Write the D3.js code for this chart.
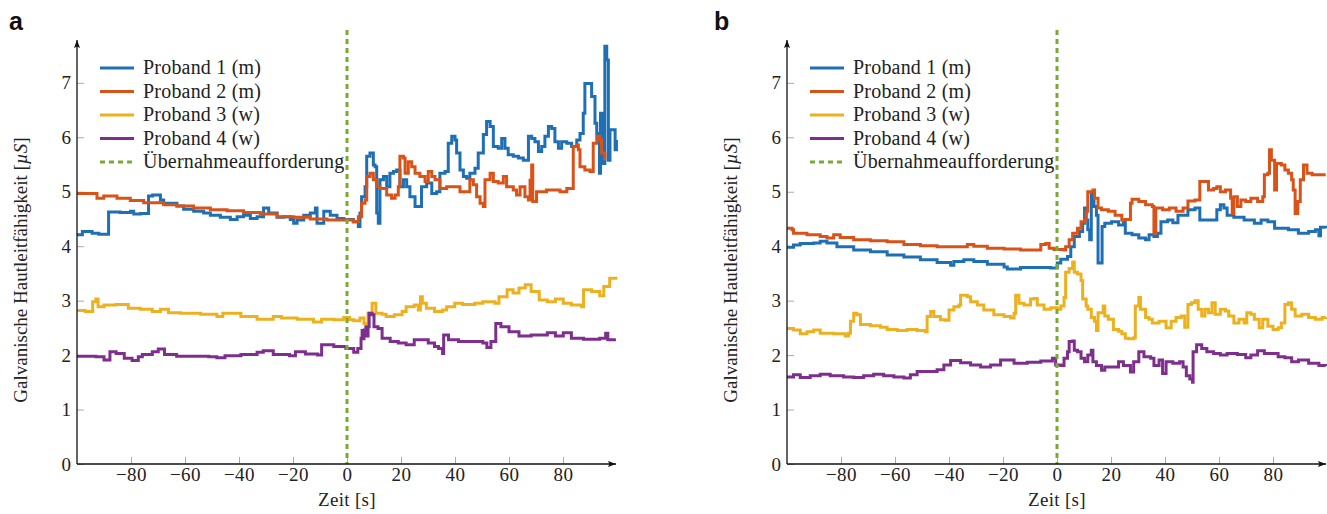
<!DOCTYPE html>
<html>
<head>
<meta charset="utf-8">
<script src="https://cdn.jsdelivr.net/npm/d3@7"></script>
<style>
  body { margin: 0; background: #fff; }
  text { font-family: "Liberation Serif", "Times New Roman", serif; fill: #222; }
  text.panel-label { font-family: "Liberation Sans", Arial, sans-serif; font-weight: bold; fill: #111; }
</style>
</head>
<body>
<div id="chart"></div>
<script>
// legend / axis texts
const probanden = ["Proband 1 (m)", "Proband 2 (m)", "Proband 3 (w)", "Proband 4 (w)"];
const takeoverLabel = "Übernahmeaufforderung";
const xTicks = [-80, -60, -40, -20, 0, 20, 40, 60, 80];
const yTicks = [0, 1, 2, 3, 4, 5, 6, 7];
const takeoverTime = 0;

// panel a, [Zeit s, Leitfähigkeit µS]
const a_p1 = [[-100,4.21],[-98,4.27],[-94.4,4.24],[-91.9,4.22],[-88.3,4.63],[-84,4.62],[-80.2,4.64],[-79,4.59],[-76.5,4.60],
  [-73.5,4.92],[-72,4.94],[-69.1,4.85],[-67.9,4.79],[-63,4.74],[-60.5,4.68],[-56.8,4.64],[-53.1,4.61],[-50.6,4.57],[-46.9,4.53],
  [-43.2,4.49],[-40.7,4.54],[-38.3,4.57],[-35.8,4.51],[-33.3,4.54],[-30.9,4.70],[-29,4.61],[-25.9,4.53],[-23.5,4.54],[-21,4.49],
  [-19.75,4.42],[-18.5,4.48],[-16,4.57],[-13.6,4.61],[-11.7,4.70],[-11.1,4.42],[-8.6,4.64],[-6.2,4.57],[-3.7,4.51],[-1.2,4.49],
  [2.35,4.45],[4.2,4.36],[4.8,4.61],[5.4,4.91],[6.7,5.09],[7.3,5.65],[8.5,5.71],[9.75,5.49],[10.4,5.46],[11.0,4.61],[11.6,4.42],
  [12.2,5.22],[13.5,5.28],[14.7,5.09],[15.9,5.34],[17.2,5.37],[18.4,5.40],[19.6,5.09],[20.9,5.22],[22.1,5.09],[23.3,4.91],
  [25.2,4.73],[26.4,4.73],[27.6,5.09],[29.5,5.16],[31.4,4.97],[33.2,5.0],[34.4,5.34],[36.3,5.37],[37.5,5.89],[38.8,6.02],
  [40.0,5.95],[40.6,5.71],[41.85,5.40],[43.1,5.28],[44.3,5.25],[45.5,5.34],[47.4,5.43],[48.6,5.71],[50.5,6.05],[51.7,6.29],
  [53.0,6.20],[54.2,5.83],[56.0,5.80],[57.3,5.98],[58.5,5.80],[59.7,5.68],[61.6,5.65],[63.5,5.62],[65.3,5.58],[67.2,6.02],
  [68.4,5.98],[69.6,5.92],[70.9,5.74],[72.1,5.83],[73.3,6.02],[74.6,6.20],[75.8,6.16],[77.0,5.92],[78.3,5.80],[79.5,5.92],
  [81.4,5.89],[83.2,5.83],[85.1,5.95],[86.3,6.07],[87.5,6.44],[88.1,6.99],[89.4,6.99],[90.6,6.75],[91.85,6.26],[92.5,6.07],
  [93.5,5.34],[93.9,6.44],[94.9,5.52],[95.5,7.67],[96.2,7.42],[96.8,5.58],[97.4,6.14],[98.6,6.14],[99.3,5.77],[99.8,5.95]];
const a_p2 = [[-100,4.97],[-92.6,4.88],[-90.1,4.92],[-85.2,4.88],[-80.25,4.84],[-75.3,4.80],[-67.9,4.76],[-63,4.74],[-56.8,4.70],
  [-50.6,4.67],[-44.4,4.65],[-38.3,4.62],[-32.1,4.59],[-25.9,4.54],[-19.75,4.53],[-13.6,4.50],[-7.4,4.48],[-1.2,4.48],
  [2.35,4.45],[4.2,4.54],[5.4,4.79],[6.7,4.85],[7.3,5.28],[8.5,5.34],[9.75,5.22],[11.0,5.09],[12.2,5.06],[14.7,4.94],[16.5,4.88],
  [17.8,4.94],[19.0,5.09],[19.6,5.65],[20.9,5.62],[21.5,5.34],[22.7,5.55],[23.95,5.46],[25.2,5.34],[27.0,5.28],[28.9,5.19],
  [30.1,5.37],[31.4,5.28],[32.6,5.22],[34.4,5.06],[36.9,5.09],[39.4,5.09],[41.85,5.0],[44.3,5.0],[45.5,5.22],[46.8,5.13],
  [48.0,4.91],[49.3,4.79],[50.5,4.73],[51.1,5.22],[53.0,5.34],[54.2,5.19],[56.0,5.16],[57.9,5.28],[59.1,5.09],[61.6,5.03],
  [62.8,4.94],[64.1,5.09],[65.9,4.91],[67.2,4.85],[67.8,5.21],[68.4,5.49],[68.8,4.82],[70.2,5.0],[73.9,5.03],[78.9,5.0],
  [81.4,5.06],[83.2,5.06],[83.8,5.83],[85.1,5.86],[85.7,5.77],[86.3,5.46],[88.1,5.40],[90.0,5.37],[91.2,5.89],[92.5,6.02],
  [93.7,5.95],[94.3,5.71],[95.5,5.58]];
const a_p3 = [[-100,2.82],[-97,2.80],[-94.2,2.98],[-93,3.03],[-92.2,2.89],[-90,2.92],[-85.5,2.93],[-81,2.86],[-76.6,2.84],
  [-72.1,2.80],[-69.1,2.84],[-66.1,2.78],[-61.6,2.77],[-54.2,2.75],[-48.2,2.71],[-46,2.77],[-42.2,2.77],[-39.3,2.71],[-33.3,2.66],
  [-27.3,2.71],[-24.3,2.68],[-18.4,2.66],[-12.4,2.61],[-9.4,2.66],[-4.9,2.65],[-1.2,2.69],[1.0,2.65],[2.5,2.63],[4.8,2.68],
  [6.3,2.58],[7.8,2.77],[9.3,2.95],[10.7,2.77],[13.0,2.75],[14.5,2.71],[17.5,2.74],[20.4,2.80],[21.9,2.89],[24.9,2.92],
  [26.4,2.83],[27.2,3.07],[27.9,2.95],[29.4,2.86],[32.4,2.80],[35.4,2.83],[36.9,2.89],[39.9,2.95],[42.8,2.93],[47.3,2.95],
  [50.3,2.98],[54.8,2.95],[56.3,3.07],[59.3,3.20],[61.5,3.14],[63.7,3.23],[66.0,3.29],[68.2,3.17],[71.2,3.01],[74.2,2.98],
  [77.2,3.03],[80.1,2.95],[83.1,2.92],[86.9,2.89],[87.6,3.20],[90.6,3.17],[93.6,3.09],[95.1,3.26],[97.3,3.41],[99.6,3.44]];
const a_p4 = [[-100,1.98],[-93,1.97],[-90,1.91],[-87.8,2.06],[-85.5,2.03],[-82.5,1.94],[-79.6,1.90],[-77.3,1.97],[-75.8,2.01],
  [-72.1,2.06],[-69.9,2.11],[-67.6,2.01],[-63.1,1.98],[-57.2,1.98],[-51.2,1.97],[-48.2,1.95],[-45.2,1.99],[-39.3,2.01],
  [-33.3,2.05],[-31.0,2.08],[-27.3,2.01],[-21.3,1.99],[-19.1,2.06],[-15.4,2.02],[-10.9,2.0],[-9.4,2.19],[-4.9,2.16],[-0.4,2.12],
  [2.5,2.05],[4.0,2.12],[5.2,2.31],[5.6,2.45],[6.0,2.30],[6.3,2.46],[7.0,2.52],[7.4,2.35],[7.8,2.52],[8.2,2.77],[9.3,2.74],
  [10.0,2.52],[11.5,2.49],[13.0,2.31],[16.0,2.25],[19.0,2.22],[21.9,2.19],[24.9,2.28],[28.7,2.28],[30.1,2.22],[32.4,2.16],
  [33.9,2.12],[35.4,2.03],[35.8,2.37],[37.6,2.28],[41.3,2.25],[47.3,2.25],[50.3,2.22],[51.8,2.14],[53.3,2.25],[55.1,2.58],
  [57.0,2.52],[60.0,2.43],[63.7,2.35],[68.2,2.37],[74.2,2.41],[77.2,2.35],[80.1,2.41],[83.1,2.31],[87.6,2.29],[93.6,2.31],
  [95.8,2.40],[96.6,2.28],[99.6,2.28]];

// panel b
const b_p1 = [[-100,3.98],[-97.6,4.02],[-95.1,4.05],[-90.1,4.06],[-87.7,4.09],[-85.2,4.06],[-81.5,3.99],[-75.3,3.93],[-69.1,3.90],
  [-62.9,3.84],[-56.7,3.80],[-50.6,3.75],[-44.4,3.70],[-39.4,3.65],[-38.2,3.72],[-34.5,3.75],[-30.8,3.72],[-25.8,3.67],
  [-19.6,3.62],[-18.4,3.58],[-13.5,3.61],[-7.3,3.61],[-2.4,3.60],[0.1,3.69],[1.4,3.76],[3.9,3.81],[5.1,3.99],[6.4,4.18],
  [8.3,4.27],[9.5,4.42],[10.2,4.70],[10.8,4.48],[11.4,4.30],[12.1,4.12],[12.7,4.97],[13.7,4.73],[14.6,4.57],[15.2,3.69],
  [16.2,3.69],[16.7,4.36],[17.7,4.42],[20.2,4.45],[22.8,4.39],[24.6,4.45],[25.3,4.24],[27.8,4.21],[30.3,4.15],[32.8,4.12],
  [34.1,4.21],[35.9,4.18],[37.2,4.24],[38.5,4.45],[41.0,4.48],[42.9,4.43],[44.8,4.57],[46.7,4.57],[48.5,4.67],[51.1,4.70],
  [52.9,4.48],[58.0,4.48],[59.2,4.67],[60.5,4.76],[61.8,4.70],[63.0,4.57],[65.5,4.53],[69.3,4.48],[73.1,4.42],[75.6,4.48],
  [78.1,4.45],[80.6,4.33],[85.7,4.30],[89.4,4.24],[93.2,4.27],[95.7,4.30],[97.0,4.19],[97.6,4.35],[99.5,4.33]];
const b_p2 = [[-100,4.33],[-98.1,4.30],[-97.6,4.24],[-92.6,4.21],[-87.7,4.18],[-85.2,4.15],[-82.7,4.21],[-80.3,4.16],[-75.3,4.12],
  [-69.1,4.10],[-62.9,4.08],[-56.7,4.03],[-50.6,4.01],[-44.4,3.99],[-38.2,3.99],[-33.2,4.03],[-30.8,4.0],[-25.8,3.96],
  [-19.6,3.95],[-13.5,3.93],[-6.7,3.93],[-6.0,4.03],[-4.2,4.05],[-2.9,3.96],[-1.1,3.94],[2.6,3.93],[3.2,3.99],[4.5,4.12],
  [5.8,4.24],[7.6,4.33],[8.9,4.45],[10.2,4.48],[10.8,4.64],[11.4,5.0],[13.3,5.03],[13.9,4.88],[15.2,4.70],[16.5,4.67],
  [19.0,4.64],[21.5,4.57],[24.0,4.48],[25.3,4.49],[27.2,4.79],[27.8,4.86],[30.3,4.82],[32.8,4.76],[35.3,4.73],[35.9,4.24],
  [36.6,4.70],[39.1,4.67],[41.6,4.70],[44.1,4.64],[46.7,4.70],[48.5,4.83],[51.1,4.85],[52.9,5.19],[54.8,5.19],[56.1,5.03],
  [58.0,5.06],[59.2,5.09],[60.5,5.0],[62.4,5.03],[64.3,4.88],[64.9,4.60],[65.5,4.91],[66.8,4.73],[68.1,4.85],[69.9,4.82],
  [71.8,4.88],[74.3,4.82],[76.2,4.91],[76.8,5.31],[78.1,5.34],[78.7,5.77],[79.4,5.58],[80.6,5.03],[81.3,5.52],[83.1,5.49],
  [84.4,5.40],[85.7,5.34],[86.9,5.22],[87.5,5.03],[88.2,4.60],[89.2,4.82],[90.1,5.22],[91.3,5.49],[92.6,5.34],[94.5,5.31],
  [97.0,5.31],[99.5,5.31]];
const b_p3 = [[-100,2.49],[-97.6,2.46],[-95.1,2.39],[-92.6,2.43],[-90.1,2.46],[-87.7,2.40],[-82.7,2.39],[-78.4,2.35],[-77.2,2.40],
  [-76.5,2.62],[-75.3,2.77],[-74.1,2.74],[-72.8,2.56],[-69.1,2.54],[-65.4,2.51],[-62.9,2.47],[-59.2,2.45],[-55.5,2.47],
  [-51.8,2.45],[-48.7,2.43],[-48.1,2.71],[-46.8,2.80],[-45.6,2.71],[-43.2,2.65],[-41.3,2.64],[-40.0,2.83],[-38.2,2.89],
  [-36.3,2.92],[-35.7,3.10],[-33.2,3.07],[-32.0,2.98],[-29.5,2.92],[-27.1,2.83],[-23.4,2.74],[-19.6,2.71],[-17.2,2.68],
  [-15.9,2.77],[-15.3,3.10],[-14.1,2.95],[-12.2,2.92],[-9.8,3.03],[-8.5,3.04],[-7.3,2.92],[-4.8,2.84],[-2.3,2.87],[0.1,2.84],
  [1.4,2.90],[2.6,3.06],[3.2,3.52],[4.5,3.59],[5.8,3.71],[6.4,3.52],[7.6,3.49],[8.9,3.37],[9.5,3.03],[10.8,2.90],[11.4,2.84],
  [12.7,2.69],[13.9,2.62],[14.6,2.45],[15.2,2.78],[17.1,2.90],[17.7,2.72],[19.0,2.66],[20.2,2.66],[20.9,2.47],[22.8,2.44],
  [24.0,2.39],[25.3,2.31],[26.5,2.30],[28.4,2.32],[29.0,2.90],[30.3,3.06],[30.9,2.84],[32.8,2.69],[34.1,2.66],[35.3,2.59],
  [37.8,2.62],[40.4,2.50],[42.3,2.62],[44.1,2.69],[46.0,2.72],[47.3,2.51],[48.5,2.93],[49.8,2.96],[51.1,3.0],[52.3,2.84],
  [53.6,2.72],[54.8,2.84],[56.1,2.78],[57.4,2.96],[58.6,2.75],[60.5,2.84],[62.4,2.81],[63.6,2.72],[65.5,2.59],[67.4,2.66],
  [69.3,2.59],[70.3,2.78],[71.8,2.75],[73.1,2.66],[74.9,2.50],[76.2,2.66],[78.1,2.53],[80.0,2.47],[81.9,2.50],[83.1,2.59],
  [84.4,2.93],[85.7,2.96],[86.9,2.84],[88.2,2.72],[90.7,2.75],[93.2,2.69],[95.7,2.66],[98.2,2.69],[99.5,2.70]];
const b_p4 = [[-100,1.60],[-97.6,1.64],[-95.1,1.59],[-91.4,1.62],[-87.7,1.65],[-84.0,1.62],[-79.0,1.60],[-75.3,1.59],[-71.6,1.62],
  [-67.9,1.65],[-64.2,1.62],[-60.4,1.60],[-56.7,1.58],[-54.3,1.64],[-51.8,1.70],[-48.1,1.70],[-44.4,1.73],[-41.9,1.82],
  [-39.4,1.90],[-35.7,1.86],[-32.0,1.82],[-28.3,1.78],[-24.6,1.82],[-20.9,1.91],[-15.9,1.85],[-11.0,1.87],[-6.0,1.89],
  [-1.7,1.94],[-0.5,1.82],[1.4,1.81],[2.6,1.94],[3.9,2.06],[4.5,2.25],[5.8,2.26],[6.4,2.09],[7.6,2.06],[8.9,1.94],[10.2,1.88],
  [11.4,2.0],[12.7,2.09],[13.3,1.88],[14.6,1.81],[16.5,1.72],[17.7,1.78],[20.2,1.78],[22.8,1.88],[24.6,1.81],[27.2,1.69],
  [28.4,1.88],[30.3,2.06],[32.2,1.97],[34.7,1.94],[35.9,1.81],[37.8,1.91],[39.1,1.66],[40.4,1.88],[42.9,1.85],[45.4,1.88],
  [46.7,1.78],[47.9,1.62],[49.2,1.56],[50.2,1.50],[50.4,2.06],[51.7,2.19],[53.6,2.12],[55.5,2.06],[58.0,2.03],[60.5,2.0],
  [63.0,2.03],[66.8,2.01],[69.9,1.95],[71.8,2.0],[74.3,2.08],[76.8,2.03],[79.4,2.03],[81.9,1.97],[84.4,1.95],[86.9,1.88],
  [89.4,1.91],[93.2,1.85],[97.0,1.81],[99.5,1.80]];

const colors = ["#1f6fb4", "#d95319", "#edb120", "#7e2f8e"];
const green = "#77ac30";

const width = 1327, height = 514;
const svg = d3.select("#chart").append("svg")
    .attr("width", width)
    .attr("height", height);

svg.append("defs").append("marker")
    .attr("id", "arrow")
    .attr("markerUnits", "userSpaceOnUse")
    .attr("viewBox", "0 0 8 6")
    .attr("refX", 8).attr("refY", 3)
    .attr("markerWidth", 8).attr("markerHeight", 6)
    .attr("orient", "auto")
    .append("path")
    .attr("d", "M0,0 L8,3 L0,6 L1.5,3 Z")
    .attr("fill", "#111");

function panel(name, series, left, right, labelX, ylabelX) {
    const g = svg.append("g");
    const x = d3.scaleLinear().domain([-100, 100]).range([left, right]);
    const y = d3.scaleLinear().domain([0, 7.75]).range([464, 42]);

    // ticks, inward, grey
    g.append("g")
        .attr("transform", "translate(0," + y(0) + ")")
        .call(d3.axisBottom(x).tickValues(xTicks).tickSize(-7).tickPadding(4).tickFormat(d3.format("d")))
        .call(s => s.select(".domain").remove())
        .call(s => s.selectAll(".tick line").attr("stroke", "#aaa"))
        .call(s => s.selectAll(".tick text").attr("font-size", 19).attr("letter-spacing", 0.5));
    g.append("g")
        .attr("transform", "translate(" + left + ",0)")
        .call(d3.axisLeft(y).tickValues(yTicks).tickSize(-7).tickPadding(6).tickFormat(d3.format("d")))
        .call(s => s.select(".domain").remove())
        .call(s => s.selectAll(".tick line").attr("stroke", "#aaa"))
        .call(s => s.selectAll(".tick text").attr("font-size", 19));

    const line = d3.line()
        .x(d => x(d[0]))
        .y(d => y(d[1]))
        .curve(d3.curveStepAfter);

    series.forEach((s, i) => {
        g.append("path")
            .datum(s)
            .attr("d", line)
            .attr("fill", "none")
            .attr("stroke", colors[i])
            .attr("stroke-width", 3)
            .attr("stroke-linejoin", "miter");
    });

    // takeover request
    g.append("line")
        .attr("x1", x(takeoverTime)).attr("x2", x(takeoverTime))
        .attr("y1", 30).attr("y2", y(0))
        .attr("stroke", green)
        .attr("stroke-width", 3)
        .attr("stroke-dasharray", "5,4");

    // axis lines with arrows
    g.append("line")
        .attr("x1", left).attr("x2", right - 1)
        .attr("y1", y(0)).attr("y2", y(0))
        .attr("stroke", "#111").attr("stroke-width", 1.3)
        .attr("marker-end", "url(#arrow)");
    g.append("line")
        .attr("x1", left).attr("x2", left)
        .attr("y1", y(0)).attr("y2", 40)
        .attr("stroke", "#111").attr("stroke-width", 1.3)
        .attr("marker-end", "url(#arrow)");

    // legend
    const lg = g.append("g").attr("transform", "translate(" + (left + 23) + ",68)");
    probanden.forEach((p, i) => {
        lg.append("line")
            .attr("x1", 0).attr("x2", 34)
            .attr("y1", i * 23.5).attr("y2", i * 23.5)
            .attr("stroke", colors[i]).attr("stroke-width", 3);
        lg.append("text")
            .attr("x", 43).attr("y", i * 23.5 + 6)
            .attr("font-size", 20)
            .attr("letter-spacing", 0.2)
            .text(p);
    });
    lg.append("line")
        .attr("x1", 0).attr("x2", 34)
        .attr("y1", 4 * 23.5).attr("y2", 4 * 23.5)
        .attr("stroke", green).attr("stroke-width", 3)
        .attr("stroke-dasharray", "5,4");
    lg.append("text")
        .attr("x", 43).attr("y", 4 * 23.5 + 6)
        .attr("font-size", 20)
        .attr("letter-spacing", 0.2)
        .text(takeoverLabel);

    // axis titles
    g.append("text")
        .attr("x", x(0)).attr("y", 506)
        .attr("text-anchor", "middle")
        .attr("font-size", 19)
        .attr("letter-spacing", 0.3)
        .text("Zeit [s]");
    const yl = g.append("text")
        .attr("transform", "translate(" + ylabelX + "," + 270 + ") rotate(-90)")
        .attr("text-anchor", "middle")
        .attr("font-size", 19);
    yl.append("tspan").text("Galvanische Hautleitfähigkeit [");
    yl.append("tspan").attr("font-style", "italic").text("µS");
    yl.append("tspan").text("]");

    g.append("text")
        .attr("class", "panel-label")
        .attr("x", labelX).attr("y", 30)
        .attr("font-size", 25)
        .text(name);
}

panel("a", [a_p1, a_p2, a_p3, a_p4], 77, 617, 9, 27);
panel("b", [b_p1, b_p2, b_p3, b_p4], 787, 1327, 714, 737);
</script>
</body>
</html>
